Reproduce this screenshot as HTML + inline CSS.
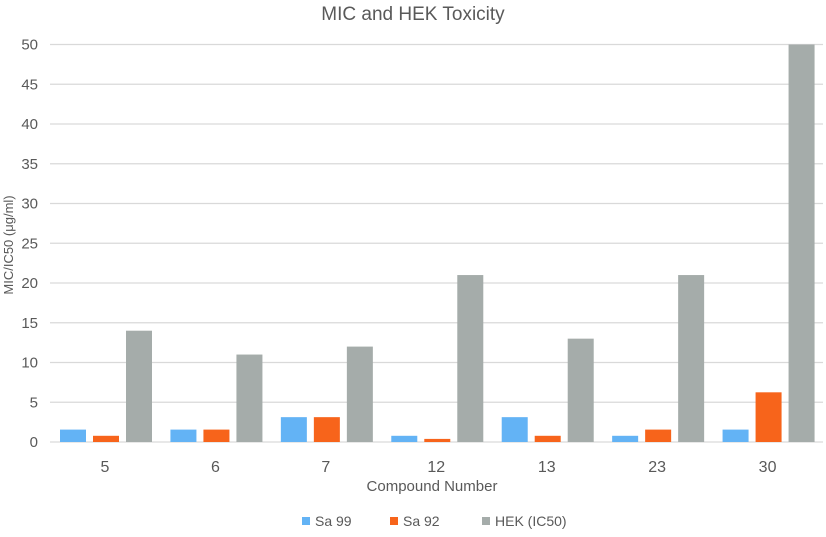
<!DOCTYPE html>
<html><head><meta charset="utf-8"><style>
body{margin:0;background:#fff;}
svg text{font-family:"Liberation Sans",sans-serif;fill:#595959;}
</style></head><body>
<svg id="chart" width="826" height="532" xmlns="http://www.w3.org/2000/svg">
<text x="413" y="20" text-anchor="middle" font-size="19">MIC and HEK Toxicity</text>
<g id="grid"></g><g id="bars"></g><g id="xlabels"></g>
<text transform="translate(13,245) rotate(-90)" text-anchor="middle" font-size="13">MIC/IC50 (μg/ml)</text>
<text x="432" y="491" text-anchor="middle" font-size="15">Compound Number</text>
<g id="legend"></g>
</svg>
<script>
const categories=["5","6","7","12","13","23","30"];
const sa99=[1.56,1.56,3.125,0.78,3.125,0.78,1.56];
const sa92=[0.78,1.56,3.125,0.39,0.78,1.56,6.25];
const hek=[14,11,12,21,13,21,50];
const yTicks=[0,5,10,15,20,25,30,35,40,45,50];
const seriesNames=["Sa 99","Sa 92","HEK (IC50)"];
const colors=["#63B3F5","#F7641B","#A5ACAA"];
const ns="http://www.w3.org/2000/svg";
const L=50,R=823,T=44.5,B=442,yMax=50;
const y=v=>B-(v/yMax)*(B-T);
const gw=(R-L)/categories.length;
function mk(tag,attrs,parent){const e=document.createElementNS(ns,tag);for(const k in attrs)e.setAttribute(k,attrs[k]);parent.appendChild(e);return e;}
const grid=document.getElementById('grid');
yTicks.forEach(t=>{
 const l=mk('line',{x1:L,x2:R,y1:y(t),y2:y(t),stroke:'#d9d9d9','stroke-width':1.3},grid);
 
 
 const tx=mk('text',{x:38,y:y(t)+5,'text-anchor':'end','font-size':15},grid);
 tx.textContent=t;
 
 
});
const bars=document.getElementById('bars');
const data=[sa99,sa92,hek];
const bw=26,offs=[10,43,76];
categories.forEach((c,i)=>{
 data.forEach((s,j)=>{
  const x0=L+i*gw+offs[j];
  const r=mk('rect',{x:x0,y:y(s[i]),width:bw,height:B-y(s[i]),fill:colors[j]},bars);
  
  
 });
 const tx=mk('text',{x:L+i*gw+55,y:472,'text-anchor':'middle','font-size':16},document.getElementById('xlabels'));
 tx.textContent=c;
 
 
});
const leg=document.getElementById('legend');
const lx=[302,390,482];
seriesNames.forEach((n,j)=>{
 const g=mk('g',{},leg);
 
 
 mk('rect',{x:lx[j],y:517,width:8,height:8,fill:colors[j]},g);
 const t=mk('text',{x:lx[j]+13,y:526,'font-size':14},g);
 t.textContent=n;
});
</script>
</body></html>
